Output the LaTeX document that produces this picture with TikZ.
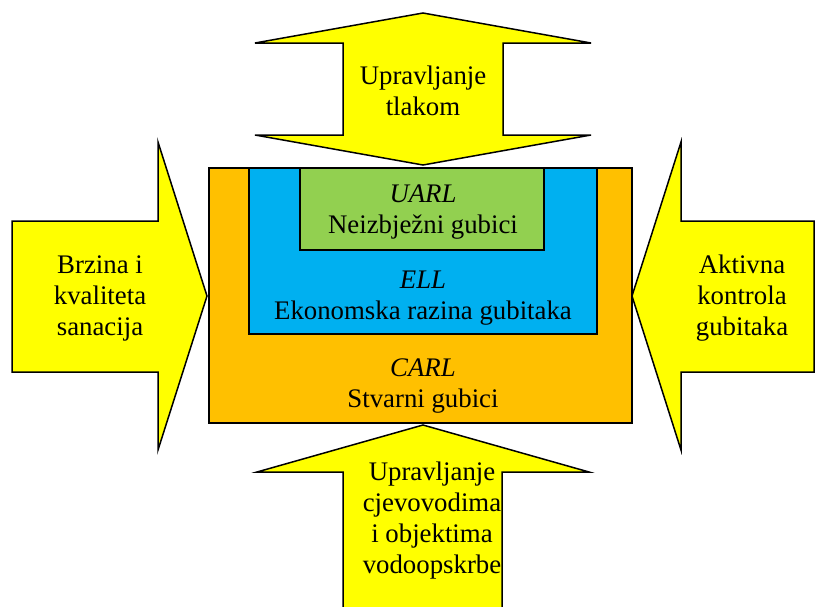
\documentclass[tikz,border=0pt]{standalone}
\usepackage{fontspec}
\setmainfont{Liberation Serif}
\usepackage{tikz}
\definecolor{arrowyellow}{HTML}{FFFF00}
\definecolor{carlorange}{HTML}{FFC000}
\definecolor{ellblue}{HTML}{00B0F0}
\definecolor{uarlgreen}{HTML}{92D050}
\tikzset{
  bigarrow/.style={draw=black, fill=arrowyellow, line width=1.5pt, line join=miter},
  lossbox/.style={draw=black, line width=1.5pt},
  boxtext/.style={align=center, inner sep=0pt, font=\fontsize{26.8}{31}\selectfont}
}

\begin{document}
\begin{tikzpicture}[x=1pt,y=-1pt]
    \useasboundingbox (0,0) rectangle (815,606);
    \clip (0,0) rectangle (815,606);
    % top arrow
    \draw[bigarrow] (423,13) -- (591,43) -- (503,43) -- (503,135) -- (591,135) -- (423,165)
        -- (255,135) -- (343,135) -- (343,43) -- (255,43) -- cycle;
    % left arrow
    \draw[bigarrow] (12,221) -- (158,221) -- (158,142) -- (207,296) -- (158,450) -- (158,372)
        -- (12,372) -- cycle;
    % right arrow
    \draw[bigarrow] (814,221) -- (681,221) -- (681,142) -- (632,296) -- (681,450) -- (681,372)
        -- (814,372) -- cycle;
    % bottom arrow
    \draw[bigarrow] (423,425) -- (589,472) -- (502,472) -- (502,630) -- (343,630) -- (343,472)
        -- (257,472) -- cycle;
    % loss levels
    \draw[lossbox, fill=carlorange] (209,168) rectangle (632,423);
    \draw[lossbox, fill=ellblue] (249,168) rectangle (597,334);
    \draw[lossbox, fill=uarlgreen] (300,168) rectangle (544,250);
    % texts
    \node[boxtext] (tlak) at (423,91) {Upravljanje\\tlakom};
    \node[boxtext] (sanacija) at (100,298) {Brzina i\\kvaliteta\\sanacija};
    \node[boxtext] (kontrola) at (742,298) {Aktivna\\kontrola\\gubitaka};
    \node[boxtext] (cjevovodi) at (432,521) {Upravljanje\\cjevovodima\\i objektima\\vodoopskrbe};
    \node[boxtext] (uarl) at (423,212) {\textit{UARL}\\Neizbježni gubici};
    \node[boxtext] (ell) at (423,298) {\textit{ELL}\\Ekonomska razina gubitaka};
    \node[boxtext] (carl) at (423,386) {\textit{CARL}\\Stvarni gubici};
\end{tikzpicture}
\end{document}
